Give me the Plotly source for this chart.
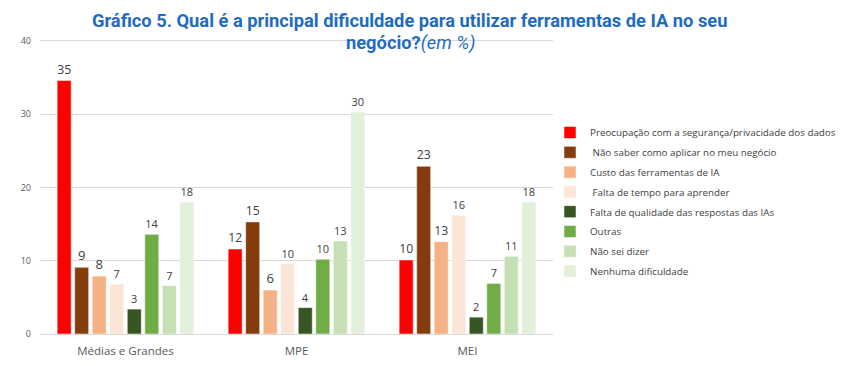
import plotly.graph_objects as go

categories = ["Médias e Grandes", "MPE", "MEI"]
series_names = [
    "Preocupação com a segurança/privacidade dos dados",
    " Não saber como aplicar no meu negócio",
    "Custo das ferramentas de IA",
    " Falta de tempo para aprender",
    "Falta de qualidade das respostas das IAs",
    "Outras",
    "Não sei dizer",
    "Nenhuma dificuldade",
]
preocupacao = [34.6, 11.6, 10.1]
nao_saber = [9.1, 15.3, 22.9]
custo = [7.9, 6.0, 12.6]
falta_tempo = [6.8, 9.6, 16.2]
falta_qualidade = [3.4, 3.6, 2.3]
outras = [13.6, 10.2, 6.9]
nao_sei = [6.6, 12.7, 10.6]
nenhuma = [18.0, 30.3, 18.0]
series_values = [preocupacao, nao_saber, custo, falta_tempo, falta_qualidade, outras, nao_sei, nenhuma]
colors = ["#FF0000", "#843C0C", "#F4B183", "#FBE5D6", "#375623", "#70AD47", "#C5E0B4", "#E2F0D9"]
label_sizes = [13, 13, 13, 11, 11, 11, 11, 11]
y_ticks = [0, 10, 20, 30, 40]

# page offset (body margin) and plot area in screen pixels
OFF = 8
X0, X1, Y0, Y1 = 40 - OFF, 553 - OFF, 38 - OFF, 334 - OFF
W, H = X1 - X0, Y1 - Y0

def px(x):
    return (x - OFF - X0) / W

def py(y):
    return (Y1 - (y - OFF)) / H

fig = go.Figure()
for i, (name, vals, col, ls) in enumerate(zip(series_names, series_values, colors, label_sizes)):
    fig.add_trace(go.Bar(
        x=categories, y=vals, name=name, legendgroup=f"g{i}",
        marker=dict(color=col, line=dict(color="rgba(255,255,255,0.5)", width=1)),
        texttemplate="%{y:.0f}", textposition="outside",
        textfont=dict(size=ls, color="#404040", family="Open Sans"),
        cliponaxis=False,
    ))

fig.update_layout(
    width=850, height=366,
    margin=dict(l=X0, r=850 - X1, t=Y0, b=366 - Y1, autoexpand=False),
    paper_bgcolor="white", plot_bgcolor="white",
    barmode="group", bargap=0.18, bargroupgap=0.2,
    font=dict(family="Open Sans", color="#595959"),
    showlegend=True,
    legend=dict(x=px(550), xanchor="left", y=py(118), yanchor="top",
                font=dict(size=9.8, color="#404040", family="Open Sans"),
                itemwidth=30, tracegroupgap=0.8, bgcolor="rgba(0,0,0,0)"),
    xaxis=dict(showline=True, linecolor="#d9d9d9", tickfont=dict(size=11.5, color="#595959"),
               ticks="", ticklabelstandoff=6),
    yaxis=dict(range=[0, 40.4], tickvals=y_ticks, showgrid=True, gridcolor="#d9d9d9",
               zeroline=False, tickfont=dict(size=9, color="#595959"), ticks="",
               ticklabelstandoff=8),
    annotations=[
        dict(text="<b>Gráfico 5. Qual é a principal dificuldade para utilizar ferramentas de IA no seu</b>",
             x=px(409), y=py(20), xref="paper", yref="paper", yanchor="middle", xanchor="center",
             showarrow=False, font=dict(size=18.3, color="#1F6BC0", family="Roboto")),
        dict(text="<b>negócio?</b><i>(em %)</i>",
             x=px(410), y=py(43), xref="paper", yref="paper", yanchor="middle", xanchor="center",
             showarrow=False, font=dict(size=18.3, color="#1F6BC0", family="Roboto")),
    ],
)
fig.write_html("out.html")
